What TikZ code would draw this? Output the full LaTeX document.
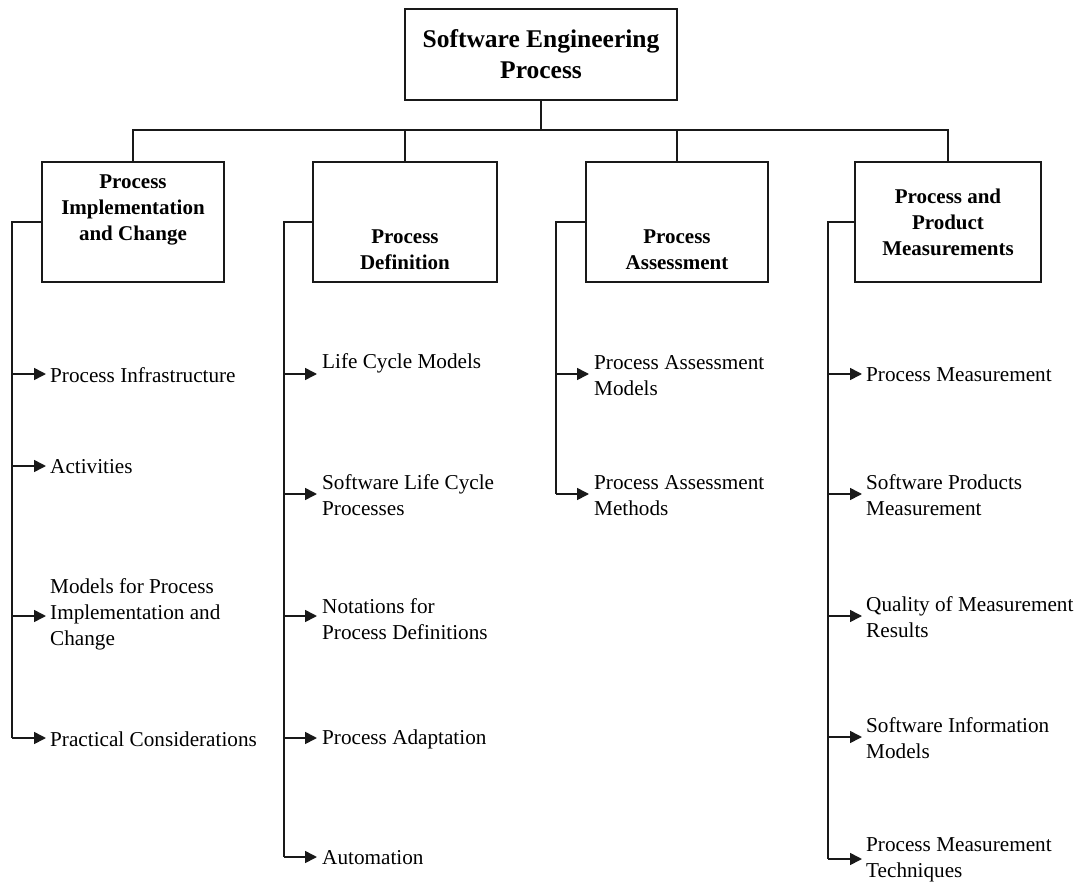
\documentclass[tikz,border=0pt]{standalone}
\usepackage{fontspec}
\setmainfont{Liberation Serif}
\usetikzlibrary{arrows.meta}
\begin{document}
\begin{tikzpicture}[x=1pt,y=-1pt,
  line/.style={line width=1.6pt,draw=black!90},
  arr/.style={line, -{Triangle[length=12pt,width=12pt]}},
  box/.style={line, draw, rectangle, inner sep=0pt},
  title/.style={font=\bfseries\fontsize{25.5}{31}\selectfont, align=center, inner sep=0pt},
  head/.style={font=\bfseries\fontsize{21}{26}\selectfont, align=center, inner sep=0pt},
  item/.style={font=\fontsize{21.2}{26}\selectfont, align=left, anchor=west, inner sep=0pt}]
\useasboundingbox (0,0) rectangle (1077,883);

% root and the four areas
\node[box, minimum width=272pt, minimum height=91pt] (top) at (541,54.5) {};
\node[title] (toptext) at (541,54) {Software Engineering\\Process};

\node[box, minimum width=182pt, minimum height=120pt] (b1) at (133,222) {};
\node[box, minimum width=184pt, minimum height=120pt] (b2) at (405,222) {};
\node[box, minimum width=182pt, minimum height=120pt] (b3) at (677,222) {};
\node[box, minimum width=186pt, minimum height=120pt] (b4) at (948,222) {};
\node[head] (h1) at (133,210) {Process\\Implementation\\and Change};
\node[head] (h2) at (405,250) {Process\\Definition};
\node[head] (h3) at (677,250) {Process\\Assessment};
\node[head] (h4) at (948,222) {Process and\\Product\\Measurements};

% tree connectors
\coordinate (j) at (541,130);
\draw[line] (top.south) -- (j);
\draw[line] (b1.north) |- (j) -| (b4.north);
\draw[line] (b2.north) -- (b2.north |- j);
\draw[line] (b3.north) -- (b3.north |- j);

% rails on the left of each area
\coordinate (r1) at (12,222);
\coordinate (r2) at (284,222);
\coordinate (r3) at (556,222);
\coordinate (r4) at (828,222);

% column 1
\coordinate (p11) at (46,374);
\coordinate (p12) at (46,466);
\coordinate (p13) at (46,616);
\coordinate (p14) at (46,738);
\node[item] (t11) at (50,375) {Process Infrastructure};
\node[item] (t12) at (50,467) {Activities};
\node[item] (t13) at (50,614) {Models for Process\\Implementation and\\Change};
\node[item] (t14) at (50,739) {Practical Considerations};
\draw[line] (b1.west) -- (r1) -- (r1 |- p14);
\foreach \k in {11,12,13,14} \draw[arr] (r1 |- p\k) -- (p\k);

% column 2
\coordinate (p21) at (317,374);
\coordinate (p22) at (317,494);
\coordinate (p23) at (317,616);
\coordinate (p24) at (317,738);
\coordinate (p25) at (317,857);
\node[item] (t21) at (322,363) {Life Cycle Models};
\node[item] (t22) at (322,495) {Software Life Cycle\\Processes};
\node[item] (t23) at (322,619) {Notations for\\Process Definitions};
\node[item] (t24) at (322,739) {Process Adaptation};
\node[item] (t25) at (322,858) {Automation};
\draw[line] (b2.west) -- (r2) -- (r2 |- p25);
\foreach \k in {21,22,23,24,25} \draw[arr] (r2 |- p\k) -- (p\k);

% column 3
\coordinate (p31) at (589,374);
\coordinate (p32) at (589,494);
\node[item] (t31) at (594,376) {Process Assessment\\Models};
\node[item] (t32) at (594,496) {Process Assessment\\Methods};
\draw[line] (b3.west) -- (r3) -- (r3 |- p32);
\foreach \k in {31,32} \draw[arr] (r3 |- p\k) -- (p\k);

% column 4
\coordinate (p41) at (862,374);
\coordinate (p42) at (862,494);
\coordinate (p43) at (862,616);
\coordinate (p44) at (862,737);
\coordinate (p45) at (862,859);
\node[item] (t41) at (866,375) {Process Measurement};
\node[item] (t42) at (866,495) {Software Products\\Measurement};
\node[item] (t43) at (866,617) {Quality of Measurement\\Results};
\node[item] (t44) at (866,738) {Software Information\\Models};
\node[item] (t45) at (866,860) {Process Measurement\\Techniques};
\draw[line] (b4.west) -- (r4) -- (r4 |- p45);
\foreach \k in {41,42,43,44,45} \draw[arr] (r4 |- p\k) -- (p\k);
\end{tikzpicture}
\end{document}
